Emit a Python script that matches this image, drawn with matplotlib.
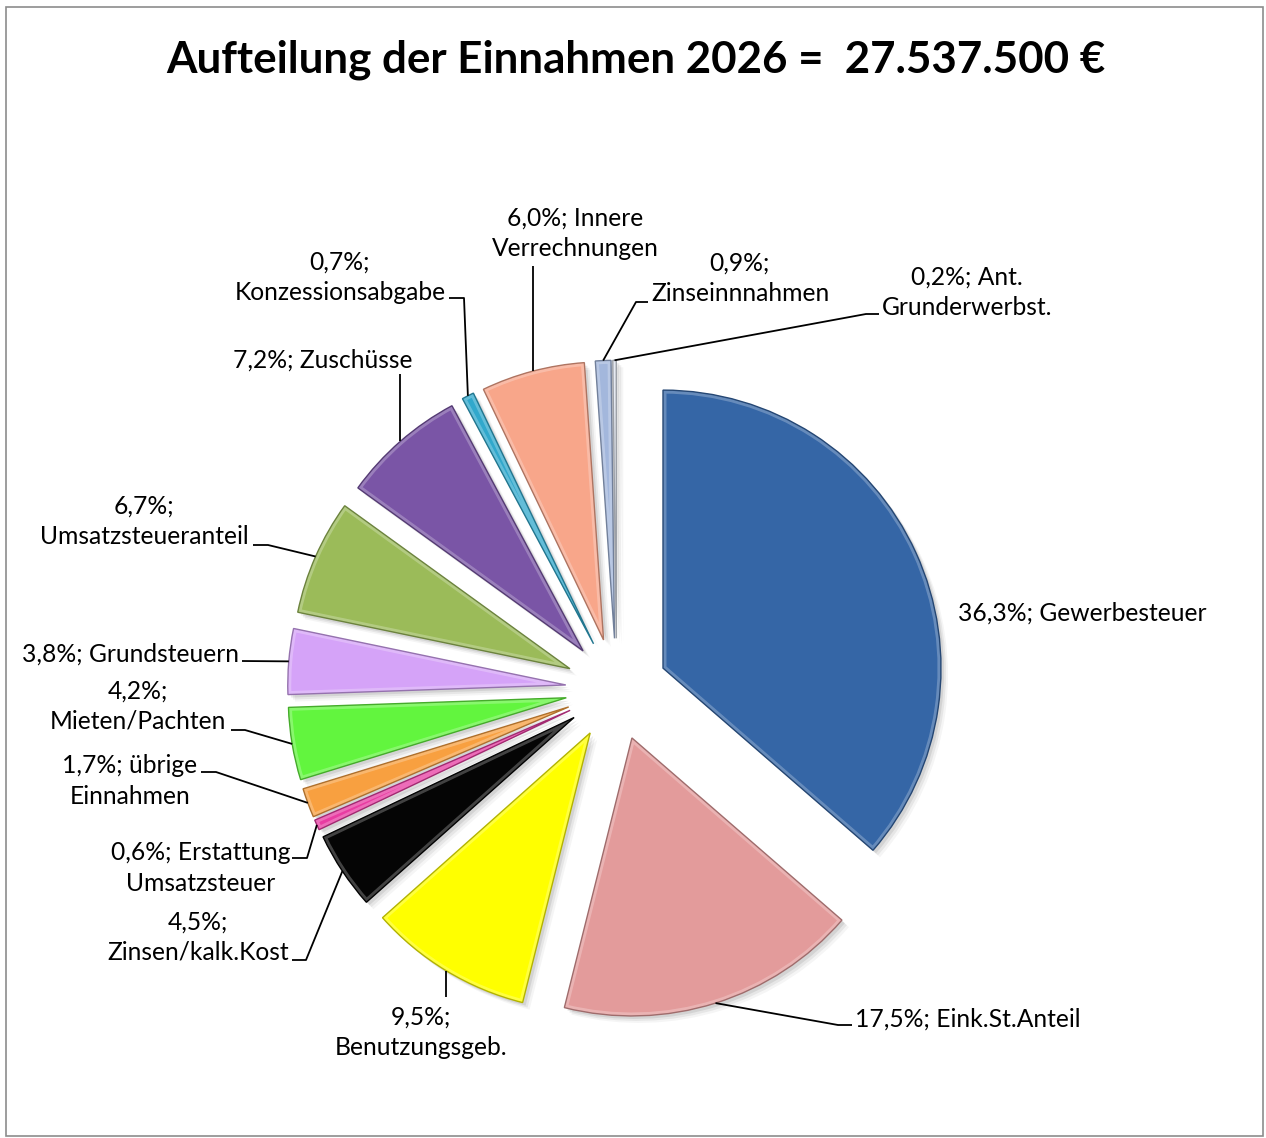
import matplotlib
matplotlib.use('Agg')
import matplotlib.pyplot as plt
import matplotlib.colors as mcolors
from matplotlib.patches import Rectangle, Wedge
import numpy as np

W, H = 1266, 1138

# ---------------- data ----------------
title = "Aufteilung der Einnahmen 2026 =  27.537.500 €"
categories = ["Gewerbesteuer", "Eink.St.Anteil", "Benutzungsgeb.", "Zinsen/kalk.Kost",
              "Erstattung\nUmsatzsteuer", "übrige\nEinnahmen", "Mieten/Pachten",
              "Grundsteuern", "Umsatzsteueranteil", "Zuschüsse", "Konzessionsabgabe",
              "Innere\nVerrechnungen", "Zinseinnnahmen", "Ant.\nGrunderwerbst."]
shares = [36.3, 17.5, 9.5, 4.5, 0.6, 1.7, 4.2, 3.8, 6.7, 7.2, 0.7, 6.0, 0.9, 0.2]
colors = ["#3566a6", "#e39b9b", "#ffff00", "#050505", "#e83ca2", "#f8a040",
          "#62f53e", "#d5a3f8", "#9bbb59", "#7a55a6", "#31a8cc", "#f8a68a",
          "#a3b7dc", "#dfe4ee"]
# separator between percentage and name ('\n' = label on two lines)
separators = [" ", " ", "\n", "\n", " ", " ", "\n", " ", "\n", " ", "\n", " ", "\n", " "]

# ---------------- layout (image pixel coords, y downward) ----------------
label_pos = [(958, 613, 'left'), (855, 1019, 'left'), (421, 1032, 'center'),
             (198, 937, 'center'), (201, 868, 'center'), (130, 781, 'center'),
             (138, 706, 'center'), (130, 654, 'center'), (144, 521, 'center'),
             (323, 360, 'center'), (340, 277, 'center'), (575, 233, 'center'),
             (740, 278, 'center'), (967, 292, 'center')]
# leader line points after the wedge anchor ('v' -> vertical drop to y)
leaders = [None,
           [(838, 1025), (852, 1025)],
           [('v', 997)],
           [(306, 960), (292, 960)],
           [(307, 858), (292, 858)],
           [(216, 772), (201, 772)],
           [(245, 730), (231, 730)],
           [(242, 661)],
           [(268, 545), (253, 545)],
           [('v', 374)],
           [(464, 298), (449, 298)],
           [('v', 266)],
           [(636, 302), (648, 302)],
           [(866, 314), (879, 314)]]

pie_center = (616.6, 689.3)
pie_radius = 278
explode_px = 51

def P(x, y):
    return (x, H - y)

plt.rcParams['font.family'] = ['Lato', 'DejaVu Sans']

fig = plt.figure(figsize=(W / 100, H / 100), dpi=100)
ax = fig.add_axes([0, 0, 1, 1])

wedges, _ = ax.pie(shares, explode=[explode_px] * len(shares), startangle=90,
                   counterclock=False, radius=pie_radius,
                   center=P(*pie_center), colors=colors,
                   wedgeprops=dict(linewidth=1.0), normalize=True)
ax.set_xlim(0, W)
ax.set_ylim(0, H)
ax.set_aspect('equal')
ax.axis('off')

for w, c in zip(wedges, colors):
    rgb = np.array(mcolors.to_rgb(c))
    w.set_edgecolor('none')
    w.set_zorder(3)
    # soft drop shadow
    for off, al in [(7, 0.04), (5, 0.06), (3, 0.08)]:
        sh = Wedge((w.center[0] + off, w.center[1] - off), w.r, w.theta1, w.theta2,
                   facecolor='black', edgecolor='none', alpha=al, zorder=2)
        ax.add_patch(sh)
    # inner highlight rim (bevel-like)
    rim = Wedge(w.center, w.r, w.theta1, w.theta2, facecolor='none',
                edgecolor=tuple(np.clip(rgb * 0.55 + 0.45, 0, 1)), linewidth=5,
                alpha=0.55, zorder=3.5)
    ax.add_patch(rim)
    rim.set_clip_path(w)
    outline = Wedge(w.center, w.r, w.theta1, w.theta2, facecolor='none',
                    edgecolor=tuple(rgb * 0.7), linewidth=1.0, zorder=3.6)
    ax.add_patch(outline)

fs = 17.7
for i, (w, v, name, sep) in enumerate(zip(wedges, shares, categories, separators)):
    pct = f"{v:.1f}".replace('.', ',') + '%;'
    txt = pct + sep + name
    lx, ly, ha = label_pos[i]
    ax.text(lx, H - ly, txt, ha=ha, va='center', fontsize=fs, color='black',
            multialignment='center', linespacing=1.4, zorder=5)
    if leaders[i] is None:
        continue
    mid = np.deg2rad((w.theta1 + w.theta2) / 2)
    ox = w.center[0] + w.r * np.cos(mid)
    oy = w.center[1] + w.r * np.sin(mid)
    xs, ys = [ox], [oy]
    for pnt in leaders[i]:
        if pnt[0] == 'v':
            xs.append(ox)
        else:
            xs.append(pnt[0])
        ys.append(H - pnt[1])
    ax.plot(xs, ys, color='black', linewidth=1.3, zorder=4, solid_capstyle='butt')

fig.text(636 / W, 1 - 60 / H, title, ha='center', va='center', fontsize=31.6,
         fontweight='bold', color='black')

fig.patches.append(Rectangle((6 / W, 1 - 1136 / H), (1263 - 6) / W, (1136 - 7) / H,
                             transform=fig.transFigure, fill=False,
                             edgecolor='#8c8c8c', linewidth=1.2))

fig.savefig('out.png', dpi=100)
